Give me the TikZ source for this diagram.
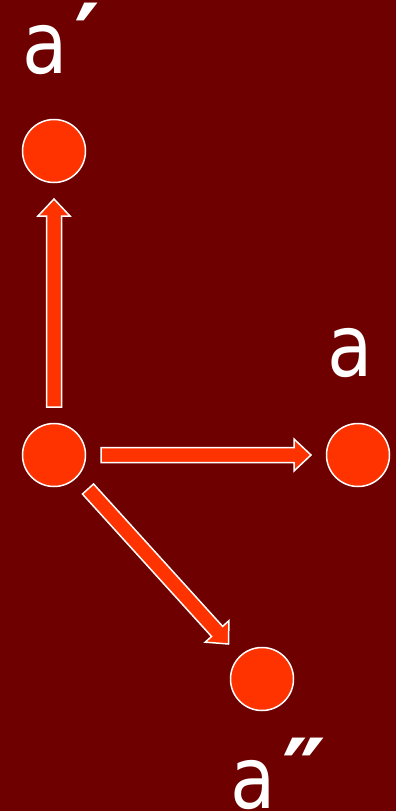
\documentclass[tikz,border=0pt]{standalone}
\usepackage{fontspec}
\usetikzlibrary{calc}
\newfontfamily\lblfont[FakeStretch=0.86]{DejaVu Sans}
\newfontfamily\primefont{DejaVu Sans}
\newcommand\prm[1]{\kern6pt\raisebox{-1pt}{\primefont\bfseries\fontsize{98}{98}\selectfont #1}}
\definecolor{bgred}{RGB}{110,0,0}
\definecolor{dotred}{RGB}{255,51,0}
\tikzset{
  dot/.style={circle, fill=dotred, draw=white, line width=1.5pt, minimum size=63pt, inner sep=0pt},
  lbl/.style={text=white, inner sep=0pt, anchor=base west, font=\lblfont\fontsize{86}{86}\selectfont},
  blockarrow/.style={fill=dotred, draw=white, line width=1.5pt, line join=miter}
}
\newcommand\blockarr[2]{%
  \draw[blockarrow]
    ($(#1)!7.5pt!90:(#2)$) --
    ($(#2)!17pt!(#1)!7.5pt!-90:(#1)$) --
    ($(#2)!17pt!(#1)!16pt!-90:(#1)$) --
    (#2) --
    ($(#2)!17pt!(#1)!16pt!90:(#1)$) --
    ($(#2)!17pt!(#1)!7.5pt!90:(#1)$) --
    ($(#1)!7.5pt!-90:(#2)$) -- cycle;}
\begin{document}
\begin{tikzpicture}[x=1pt,y=-1pt]
  \fill[bgred] (0,0) rectangle (396,811);
  \useasboundingbox (0,0) rectangle (396,811);
  % nodes
  \node[dot] (o) at (54,455) {};
  \node[dot] (ap) at (54,151) {};
  \node[dot] (a) at (358,455) {};
  \node[dot] (app) at (262,679) {};
  % labels
  \node[lbl] (lap) at (22.5,73) {a\prm{′}};
  \node[lbl] (la) at (327.5,376) {a};
  \node[lbl] (lapp) at (230.5,808) {a\prm{″}};
  % arrow ends
  \coordinate (s1) at (54,407);
  \coordinate (e1) at (54,199);
  \coordinate (s2) at (101,455);
  \coordinate (e2) at (311,455);
  \coordinate (s3) at (88,489);
  \coordinate (e3) at (228.5,644);
  \blockarr{s1}{e1}
  \blockarr{s2}{e2}
  \blockarr{s3}{e3}
\end{tikzpicture}
\end{document}
